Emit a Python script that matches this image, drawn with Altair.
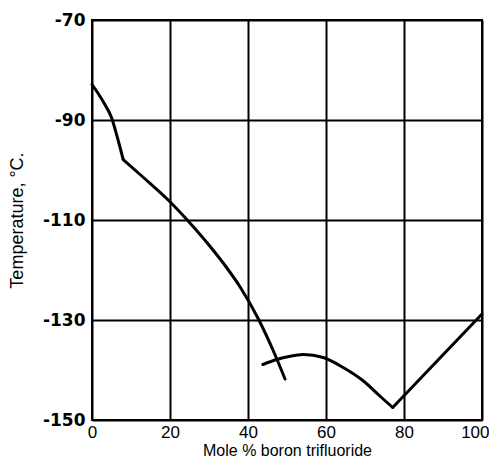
import altair as alt
import pandas as pd

# Curve 1, upper part (pure ether side) up to the break at ~8 %
x1a = [0.0, 1.5, 3.3, 5.0, 6.3, 7.2, 8.0]
t1a = [-82.9, -84.6, -86.9, -89.5, -92.9, -95.5, -97.9]
# Curve 1, after the break
x1b = [8.0, 13.2, 19.8, 24.3, 30.3, 34.5, 37.9, 42.6, 46.9, 49.5]
t1b = [-97.9, -101.5, -106.2, -109.9, -115.3, -119.5, -123.3, -129.7, -136.9, -141.8]
# Curve 2, compound branch to the eutectic
x2a = [43.8, 47.4, 50.5, 54.2, 59.3, 64.4, 69.6, 73.8, 77.1]
t2a = [-138.9, -137.9, -137.3, -136.9, -137.5, -139.5, -142.2, -145.2, -147.5]
# Curve 2, BF3-rich branch
x2b = [77.1, 100.0]
t2b = [-147.5, -128.8]

x_ticks = [0, 20, 40, 60, 80, 100]
y_ticks = [-150, -130, -110, -90, -70]

rows = []
for name, xs, ts in [("c1a", x1a, t1a), ("c1b", x1b, t1b), ("c2a", x2a, t2a), ("c2b", x2b, t2b)]:
    for i, (a, b) in enumerate(zip(xs, ts)):
        rows.append({"x": a, "t": b, "s": name, "i": i})
df = pd.DataFrame(rows)

FONT = "Liberation Sans"

chart = alt.Chart(df).mark_line(color="black", strokeWidth=3, strokeCap="round",
                                strokeJoin="round", interpolate="monotone").encode(
    x=alt.X("x:Q", scale=alt.Scale(domain=[0, 100], nice=False),
            axis=alt.Axis(values=x_ticks, title="Mole % boron trifluoride", ticks=False,
                          labelFontSize=17, titleFontSize=16, labelFont=FONT, titleFont=FONT,
                          labelColor="black", titleColor="black", labelPadding=4, titlePadding=2,
                          labelFlush=False,
                          labelAlign={"condition": {"test": "datum.value == 100", "value": "right"},
                                      "value": "center"},
                          labelOffset={"condition": {"test": "datum.value == 100", "value": 7},
                                       "value": 0},
                          gridColor="black", gridWidth=2, gridOpacity=1, domain=False,
                          titleFontWeight="normal")),
    y=alt.Y("t:Q", scale=alt.Scale(domain=[-150, -70], nice=False),
            axis=alt.Axis(values=y_ticks, title="Temperature, °C.", ticks=False,
                          labelExpr="'-' + abs(datum.value)",
                          labelFontSize=17, titleFontSize=18, labelFont="DejaVu Sans",
                          labelFontWeight="bold", titleFont=FONT,
                          labelColor="black", titleColor="black", labelPadding=7, titlePadding=16,
                          labelFlush=False,
                          gridColor="black", gridWidth=2, gridOpacity=1, domain=False,
                          titleFontWeight="normal")),
    detail="s:N",
    order="i:Q",
).properties(
    width=390, height=400,
    autosize=alt.AutoSizeParams(type="none"),
    padding={"left": 84, "top": 12, "right": 7, "bottom": 40},
).configure_view(stroke="black", strokeWidth=2)

chart.save("out.html", embed_options={"renderer": "svg", "actions": False})
